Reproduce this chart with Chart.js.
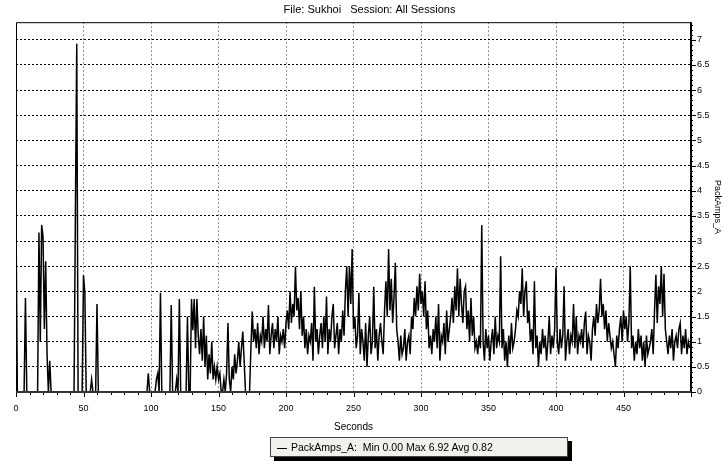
<!DOCTYPE html>
<html lang="en">
<head>
    <meta charset="UTF-8">
    <title>PackAmps_A - Sukhoi</title>
    <script src="https://cdn.jsdelivr.net/npm/chart.js"></script>
    <style>
        body { margin: 0; background: #fff; }
        #wrap { position: relative; width: 723px; height: 461px; }
        #legend {
            position: absolute; left: 270px; top: 437px; width: 296px; height: 18px;
            background: #f1f1ee; border: 1px solid #444; box-shadow: 4px 4px 0 #000;
            font: 10.5px "Liberation Sans", Arial, sans-serif; line-height: 18px;
            white-space: pre; color: #000;
        }
        #legend .swatch {
            display: inline-block; width: 10px; height: 0; border-top: 1.5px solid #000;
            vertical-align: middle; margin: 0 4px 0 6px;
        }
    </style>

    <script>
        // PackAmps_A, one sample per second (index = seconds)
        var amps000 = [
            3.44, 0, 0, 0, 0, 0, 0, 1.87, 0, 0,
            0, 0, 0, 0, 0, 0, 0, 3.17, 1.0, 3.32,
            3.1, 1.25, 2.6, 0.75, 0, 0.62, 0, 0, 0, 0,
            0, 0, 0, 0, 0, 0, 0, 0, 0, 0,
            0, 0, 0, 0, 3.56, 6.92, 0, 0, 0, 0
        ];
        var amps050 = [
            2.32, 1.97, 0, 0, 0, 0, 0.25, 0, 0, 0,
            1.75, 0, 0, 0, 0, 0, 0, 0, 0, 0,
            0, 0, 0, 0, 0, 0, 0, 0, 0, 0,
            0, 0, 0, 0, 0, 0, 0, 0, 0, 0,
            0, 0, 0, 0, 0, 0, 0, 0, 0.37, 0
        ];
        var amps100 = [
            0, 0, 0, 0, 0.25, 0.37, 0, 1.97, 0, 0,
            0, 0, 0, 0, 0, 1.73, 0, 0, 0, 0.25,
            0, 1.85, 0, 0, 0, 0, 0, 1.5, 0, 0,
            1.85, 1.23, 1.85, 0.87, 1.85, 1.12, 0.75, 1.25, 0.62, 1.5,
            0.5, 1.12, 0.25, 0.75, 0.37, 1.0, 0.25, 0.5, 0.25, 0.5
        ];
        var amps150 = [
            0.25, 0.37, 0, 0, 0.25, 0, 0.37, 1.37, 0.25, 0,
            0.5, 0.25, 0.75, 0.37, 0.62, 1.0, 0.5, 0.87, 1.2, 0.62,
            0, 0, 0, 0, 0.87, 1.6, 1.0, 1.25, 0.87, 1.37,
            0.75, 1.12, 1.0, 1.5, 0.87, 1.25, 1.0, 1.73, 0.75, 1.12,
            1.37, 0.87, 1.25, 1.0, 1.5, 0.75, 1.12, 1.0, 1.25, 0.87
        ];
        var amps200 = [
            1.37, 1.62, 1.25, 2.0, 1.37, 1.75, 1.5, 2.49, 1.62, 1.87,
            1.25, 2.0, 1.12, 1.5, 0.87, 1.25, 0.75, 1.12, 1.0, 1.37,
            0.62, 2.09, 1.0, 1.25, 0.75, 1.12, 1.37, 0.87, 1.5, 1.0,
            1.9, 0.75, 1.25, 1.0, 1.5, 1.75, 0.87, 1.12, 1.37, 0.75,
            1.25, 1.0, 1.62, 1.12, 2.0, 2.5, 1.5, 2.49, 1.75, 2.84
        ];
        var amps250 = [
            1.25, 1.5, 0.87, 1.12, 1.97, 0.75, 1.25, 1.0, 0.62, 1.37,
            0.5, 1.12, 1.5, 0.75, 1.0, 2.09, 0.87, 1.25, 0.62, 1.12,
            1.37, 1.0, 0.75, 1.62, 2.2, 1.5, 2.84, 1.62, 2.25, 1.37,
            1.87, 2.57, 1.25, 1.0, 0.62, 1.12, 0.75, 0.87, 1.25, 0.62,
            1.0, 1.12, 0.75, 1.5, 1.25, 1.87, 1.5, 2.1, 1.62, 2.35
        ];
        var amps300 = [
            1.75, 2.0, 1.5, 2.2, 1.25, 1.62, 0.87, 1.12, 0.75, 1.25,
            1.0, 1.5, 0.87, 1.75, 0.62, 1.12, 1.0, 1.37, 0.75, 1.62,
            1.0, 1.25, 1.5, 1.87, 1.37, 2.1, 1.62, 2.46, 1.5, 2.25,
            1.75, 1.37, 2.0, 2.1, 1.25, 1.62, 1.0, 1.87, 1.12, 1.5,
            0.87, 1.0, 0.75, 1.12, 0.87, 3.32, 1.0, 0.62, 1.25, 0.87
        ];
        var amps350 = [
            1.12, 0.62, 1.0, 1.25, 0.75, 1.5, 0.87, 1.12, 1.0, 2.7,
            0.87, 1.25, 0.62, 1.0, 0.5, 1.12, 0.75, 1.37, 0.87, 1.0,
            1.25, 1.62, 1.5, 2.0, 1.75, 2.46, 1.5, 2.0, 2.2, 1.37,
            1.62, 1.0, 1.25, 0.75, 2.2, 0.87, 1.12, 0.5, 1.0, 0.75,
            1.25, 0.87, 1.12, 0.62, 1.0, 1.5, 0.75, 1.12, 0.87, 1.25
        ];
        var amps400 = [
            2.47, 1.0, 0.75, 1.25, 0.87, 1.12, 2.1, 0.62, 1.0, 1.25,
            0.75, 1.12, 1.0, 1.75, 0.87, 1.5, 0.75, 1.12, 1.0, 1.25,
            0.87, 1.37, 1.6, 0.75, 1.12, 1.0, 0.62, 1.25, 1.5, 1.12,
            1.75, 1.37, 1.62, 2.25, 1.5, 1.75, 1.25, 1.62, 1.0, 1.37,
            1.12, 0.87, 1.0, 0.75, 0.5, 1.12, 0.87, 1.25, 1.5, 1.0
        ];
        var amps450 = [
            1.62, 1.25, 1.5, 1.0, 1.37, 2.5, 0.87, 1.12, 0.62, 1.0,
            0.75, 1.25, 0.87, 1.12, 0.62, 1.0, 0.5, 1.12, 0.75, 0.87,
            1.0, 1.25, 0.75, 1.62, 2.33, 1.37, 2.1, 1.75, 2.5, 1.5,
            2.35, 1.25, 1.0, 0.75, 1.12, 0.87, 1.25, 0.62, 1.0, 1.12,
            0.87, 1.25, 1.37, 0.75, 1.12, 0.87, 1.25, 0.75, 1.0, 0.87
        ];

        var chartTitle = "File: Sukhoi   Session: All Sessions";
        var xTitle = "Seconds";
        var yTitle = "PackAmps_A";
        var xMax = 500;
        var yMax = 7.35;
    </script>
</head>
<body>
    <div id="wrap">
        <canvas id="amps_chart" width="723" height="461"></canvas>
        <div id="legend"><span class="swatch"></span>PackAmps_A:  Min 0.00 Max 6.92 Avg 0.82</div>
    </div>

    <script>
        var amps = [].concat(amps000, amps050, amps100, amps150, amps200,
                             amps250, amps300, amps350, amps400, amps450);
        var points = amps.map(function (v, i) { return { x: i, y: v }; });

        Chart.defaults.font.family = '"Liberation Sans", Arial, sans-serif';
        Chart.defaults.color = '#000';

        // frame + major/minor tick marks like the logger's plot
        var framePlugin = {
            id: 'frame',
            afterDraw: function (chart) {
                var ctx = chart.ctx, a = chart.chartArea;
                var x = chart.scales.x, y = chart.scales.y;
                ctx.save();
                ctx.strokeStyle = '#000';
                ctx.lineWidth = 1;
                for (var s = 0; s <= xMax; s += 10) {
                    var px = Math.round(x.getPixelForValue(s)) + 0.5;
                    var len = s % 50 === 0 ? 5 : 3;
                    ctx.beginPath();
                    ctx.moveTo(px, a.bottom);
                    ctx.lineTo(px, a.bottom + len);
                    ctx.stroke();
                }
                for (var i = 0; i <= Math.floor(yMax * 10); i++) {
                    var py = Math.round(y.getPixelForValue(i / 10)) + 0.5;
                    var l2 = i % 5 === 0 ? 5 : 2;
                    ctx.beginPath();
                    ctx.moveTo(a.right, py);
                    ctx.lineTo(a.right + l2, py);
                    ctx.stroke();
                }
                // top + left
                ctx.beginPath();
                ctx.moveTo(a.left + 0.5, a.bottom);
                ctx.lineTo(a.left + 0.5, a.top + 0.5);
                ctx.lineTo(a.right, a.top + 0.5);
                ctx.stroke();
                // right axis
                ctx.lineWidth = 2;
                ctx.beginPath();
                ctx.moveTo(a.right, a.top);
                ctx.lineTo(a.right, a.bottom + 1);
                ctx.stroke();
                // bottom axis
                ctx.strokeStyle = '#333';
                ctx.beginPath();
                ctx.moveTo(a.left, a.bottom);
                ctx.lineTo(a.right, a.bottom);
                ctx.stroke();
                ctx.restore();
            }
        };

        new Chart(document.getElementById('amps_chart'), {
            type: 'line',
            data: {
                datasets: [
                    {
                        label: yTitle,
                        data: points,
                        borderColor: '#000',
                        borderWidth: 1.5,
                        pointRadius: 0,
                        tension: 0,
                        fill: false,
                    },
                ]
            },
            options: {
                responsive: false,
                animation: false,
                layout: { padding: { left: 16, right: 0, top: 0, bottom: 28 } },
                plugins: {
                    legend: { display: false },
                    tooltip: { enabled: false },
                    title: {
                        display: true,
                        text: chartTitle,
                        font: { size: 11, weight: 'normal' },
                        padding: { top: 3, bottom: 6 },
                    },
                },
                scales: {
                    x: {
                        type: 'linear',
                        min: 0,
                        max: xMax,
                        afterFit: function (scale) { scale.height = 41; },
                        ticks: {
                            stepSize: 10,
                            autoSkip: false,
                            maxRotation: 0,
                            includeBounds: false,
                            padding: 11,
                            font: { size: 9 },
                            callback: function (v) { return (v % 50 === 0 && v < xMax) ? v : ''; },
                        },
                        grid: {
                            drawTicks: false,
                            color: function (c) {
                                var v = c.tick ? c.tick.value : 0;
                                return (v % 50 === 0 && v > 0 && v < xMax) ? '#8a8a8a' : 'rgba(0,0,0,0)';
                            },
                            lineWidth: 1,
                            borderDash: [2, 2],
                        },
                        border: { display: false, dash: [2, 2] },
                        title: {
                            display: true,
                            text: xTitle,
                            font: { size: 10 },
                            padding: { top: 0, bottom: 0 },
                        },
                    },
                    y: {
                        position: 'right',
                        min: 0,
                        max: yMax,
                        afterFit: function (scale) { scale.width = 32; },
                        ticks: {
                            stepSize: 0.5,
                            includeBounds: false,
                            padding: 6,
                            font: { size: 9 },
                            callback: function (v) { return String(Number(v.toFixed(1))); },
                        },
                        grid: {
                            drawTicks: false,
                            color: function (c) {
                                var v = c.tick ? c.tick.value : 0;
                                return v > 0 ? '#000' : 'rgba(0,0,0,0)';
                            },
                            lineWidth: 1,
                            borderDash: [2, 2],
                        },
                        border: { display: false, dash: [2, 2] },
                        title: {
                            display: true,
                            text: yTitle,
                            font: { size: 9 },
                            padding: { top: 0, bottom: 1 },
                        },
                    },
                }
            },
            plugins: [framePlugin]
        });
    </script>
</body>
</html>
